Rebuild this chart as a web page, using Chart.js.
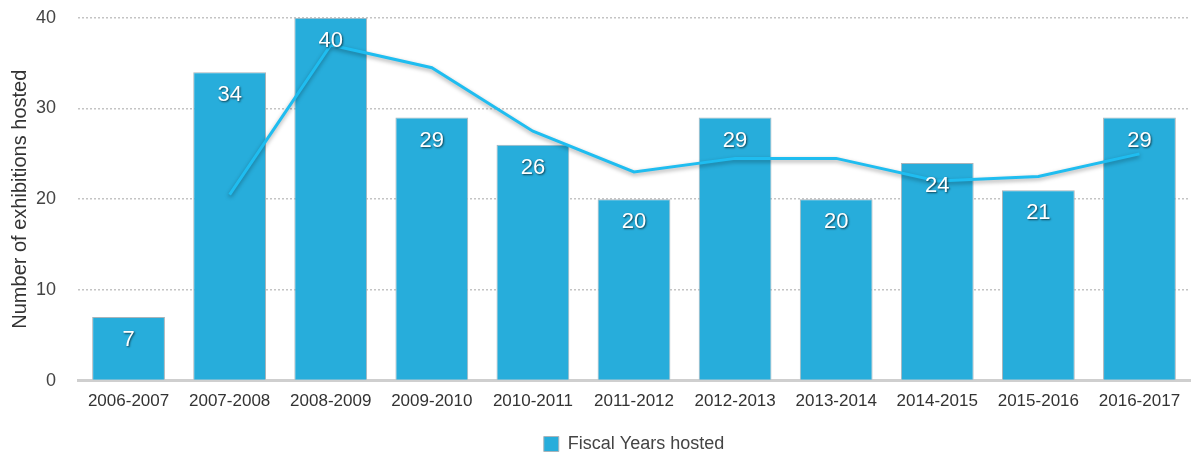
<!DOCTYPE html>
<html lang="en">
<head>
  <meta charset="UTF-8" />
  <title>Exhibitions hosted</title>
  <script src="https://cdn.jsdelivr.net/npm/chart.js"></script>
  <style>
    body { margin: 0; background: #fff; }
    #wrap { width: 1193px; height: 457px; }
  </style>
</head>
<body>
  <div id="wrap"><canvas id="chart" width="1193" height="457"></canvas></div>

  <script>
    const fiscalYears = ["2006-2007", "2007-2008", "2008-2009", "2009-2010", "2010-2011", "2011-2012",
      "2012-2013", "2013-2014", "2014-2015", "2015-2016", "2016-2017"];
    const exhibitions = [7, 34, 40, 29, 26, 20, 29, 20, 24, 21, 29];
    // trend line
    const trend = [null, 20.5, 37, 34.5, 27.5, 23, 24.5, 24.5, 22, 22.5, 25];
    const yTicks = [0, 10, 20, 30, 40];

    const font = "'Liberation Sans', Arial, sans-serif";

    // white value labels near the top of each bar
    const barLabels = {
      id: "barLabels",
      afterDatasetsDraw(chart) {
        const ctx = chart.ctx;
        const meta = chart.getDatasetMeta(1);
        ctx.save();
        ctx.font = "22px " + font;
        ctx.textAlign = "center";
        ctx.textBaseline = "middle";
        ctx.fillStyle = "#fff";
        ctx.shadowColor = "rgba(0,0,0,0.65)";
        ctx.shadowOffsetX = 1;
        ctx.shadowOffsetY = 1;
        ctx.shadowBlur = 2;
        meta.data.forEach((bar, i) => {
          ctx.fillText(exhibitions[i], bar.x, bar.y + 23);
        });
        ctx.restore();
      }
    };

    // soft shadow under the trend line
    const lineShadow = {
      id: "lineShadow",
      beforeDatasetDraw(chart, args) {
        if (args.index !== 0) return;
        const ctx = chart.ctx;
        ctx.save();
        ctx.shadowColor = "rgba(0,0,0,0.35)";
        ctx.shadowBlur = 4;
        ctx.shadowOffsetY = 2;
      },
      afterDatasetDraw(chart, args) {
        if (args.index !== 0) return;
        chart.ctx.restore();
      }
    };

    // center the legend under the plot area, not the whole canvas
    const legendUnderPlot = {
      id: "legendUnderPlot",
      afterLayout(chart) {
        const lg = chart.legend;
        if (!lg) return;
        const off = (chart.chartArea.left + chart.chartArea.right) / 2 - (lg.left + lg.right) / 2;
        lg.left += off;
        lg.right += off;
      }
    };

    new Chart(document.getElementById("chart"), {
      data: {
        labels: fiscalYears,
        datasets: [
          {
            type: "line",
            label: "Trend",
            data: trend,
            borderColor: "#1fbdf0",
            borderWidth: 3,
            pointRadius: 0,
            tension: 0,
            fill: false,
            order: 0
          },
          {
            type: "bar",
            label: "Fiscal Years hosted",
            data: exhibitions,
            backgroundColor: "#27addb",
            borderColor: "#a9b4ba",
            borderWidth: 1,
            categoryPercentage: 1,
            barPercentage: 0.72,
            order: 1
          }
        ]
      },
      options: {
        responsive: false,
        animation: false,
        layout: { padding: { top: 0, right: 3, left: 8, bottom: -6 } },
        plugins: {
          tooltip: { enabled: false },
          legend: {
            position: "bottom",
            labels: {
              filter: item => item.datasetIndex === 1,
              boxWidth: 15,
              boxHeight: 15,
              padding: 8,
              color: "#444",
              font: { family: font, size: 18 }
            }
          }
        },
        scales: {
          x: {
            grid: { display: false, drawTicks: false },
            border: { color: "#cfcfcf", width: 3 },
            afterFit: axis => { axis.height += 4; },
            ticks: {
              color: "#333",
              padding: 11,
              maxRotation: 0,
              font: { family: font, size: 17 }
            }
          },
          y: {
            min: 0,
            max: 40,
            afterBuildTicks: axis => { axis.ticks = yTicks.map(v => ({ value: v })); },
            afterFit: axis => { axis.width = 70; },
            border: { display: false, dash: [2, 2] },
            grid: { color: "#c4c4c4", lineWidth: 1.5, tickLength: 15, tickColor: "transparent" },
            ticks: {
              color: "#444",
              padding: 7,
              font: { family: font, size: 18 }
            },
            title: {
              display: true,
              text: "Number of exhibitions hosted",
              color: "#333",
              padding: 0,
              font: { family: font, size: 20 }
            }
          }
        }
      },
      plugins: [lineShadow, barLabels, legendUnderPlot]
    });
  </script>
</body>
</html>
